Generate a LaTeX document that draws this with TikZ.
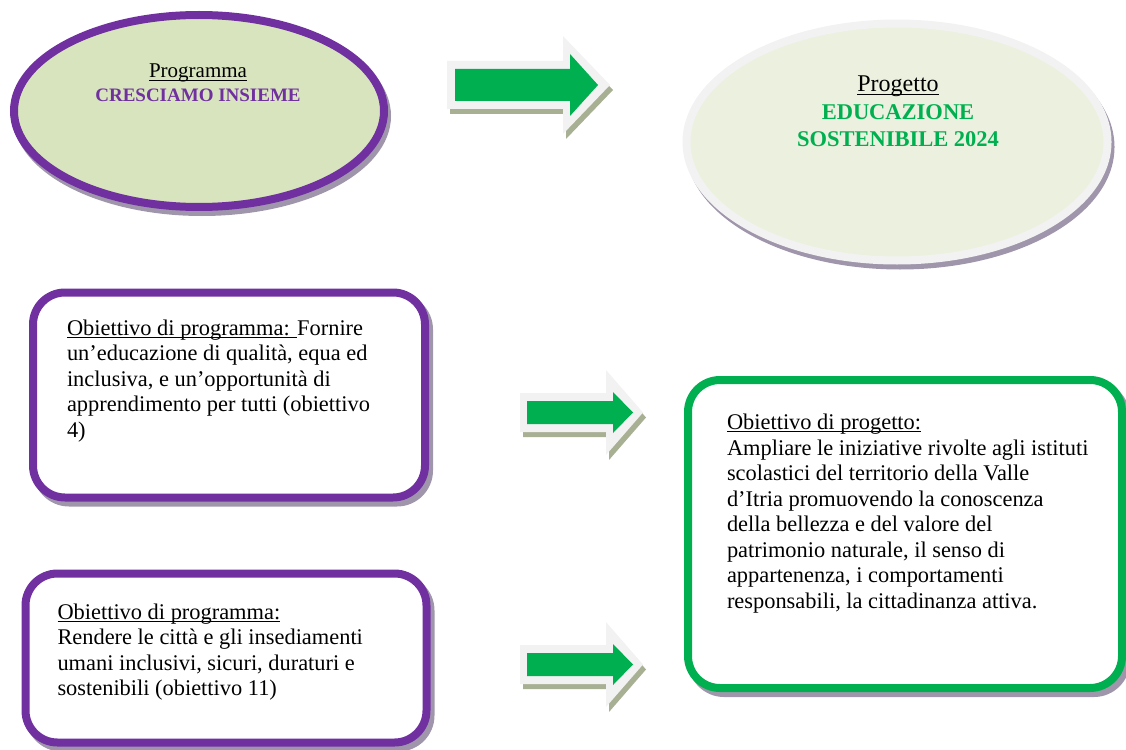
\documentclass[tikz,border=0pt]{standalone}
\usepackage{fontspec}
\setmainfont{Liberation Serif}
\usetikzlibrary{positioning,shapes.geometric,shadows}
\definecolor{progpurple}{RGB}{112,48,160}
\definecolor{projgreen}{RGB}{0,176,80}
\definecolor{ovalgreen}{RGB}{215,228,189}
\definecolor{ovalpale}{RGB}{235,241,222}
\definecolor{rimgrey}{RGB}{242,242,242}
\definecolor{shadowgrey}{RGB}{160,150,172}
\definecolor{arrowshadow}{RGB}{168,176,148}
\newcommand\wordul[1]{\setbox0\hbox{#1}\rlap{\rule[-2.6pt]{\wd0}{1pt}}\box0}

\begin{document}
\begin{tikzpicture}[x=1pt, y=-1pt,
    oval/.style    ={ellipse, line width=8pt, inner sep=0pt, outer sep=0pt,
                     drop shadow={shadow xshift=3pt, shadow yshift=-5pt, fill=shadowgrey,
                                  draw=shadowgrey, line width=8pt, opacity=1}},
    objbox/.style  ={rectangle, rounded corners=32pt, line width=8pt, fill=white, outer sep=0pt,
                     drop shadow={shadow xshift=4pt, shadow yshift=-5pt, fill=shadowgrey,
                                  draw=shadowgrey, line width=8pt, opacity=1}},
    titletext/.style={anchor=base, inner sep=0pt, outer sep=0pt},
    bodytext/.style={inner sep=0pt, outer sep=0pt, align=left,
                     font=\fontsize{22.4}{25.5}\selectfont},
    arrshadow/.style={fill=arrowshadow},
    arrrim/.style  ={fill=rimgrey},
    arrbody/.style ={fill=projgreen}]
    \useasboundingbox (0,0) rectangle (1126,749);

    % top row: programme and project
    \node[oval, draw=progpurple, fill=ovalgreen, minimum width=370pt, minimum height=192pt] (prog) at (199,111) {};
    \node[titletext, font=\fontsize{21}{24}\selectfont] (progtitle) at (198,78) {\wordul{Programma}};
    \node[titletext, font=\fontsize{19}{22}\selectfont\bfseries, text=progpurple] (progname) at (198,102) {CRESCIAMO INSIEME};

    \node[oval, draw=rimgrey, fill=ovalpale, minimum width=421pt, minimum height=237pt] (proj) at (897,142) {};
    \node[titletext, font=\fontsize{24}{27}\selectfont] (projtitle) at (898,92) {\wordul{Progetto}};
    \node[inner sep=0pt, outer sep=0pt, anchor=north, align=center, text=projgreen,
          font=\fontsize{22.5}{27}\selectfont\bfseries] (projname) at (898,105) {EDUCAZIONE\\ SOSTENIBILE 2024};

    % objectives
    \node[objbox, draw=progpurple, minimum width=392pt, minimum height=205pt] (obj1) at (229,395) {};
    \node[bodytext, below right=27pt and 34pt of obj1.north west] (obj1txt)
        {\wordul{Obiettivo di programma: }Fornire\\
         un’educazione di qualità, equa ed\\
         inclusiva, e un’opportunità di\\
         apprendimento per tutti (obiettivo\\
         4)};

    \node[objbox, draw=progpurple, minimum width=401pt, minimum height=169pt] (obj2) at (226,658) {};
    \node[bodytext, below right=30pt and 32pt of obj2.north west] (obj2txt)
        {\wordul{Obiettivo di programma:}\\
         Rendere le città e gli insediamenti\\
         umani inclusivi, sicuri, duraturi e\\
         sostenibili (obiettivo 11)};

    \node[objbox, draw=projgreen, minimum width=434pt, minimum height=308pt] (goal) at (905,534) {};
    \node[bodytext, below right=34pt and 39pt of goal.north west] (goaltxt)
        {\wordul{Obiettivo di progetto:}\\
         Ampliare le iniziative rivolte agli istituti\\
         scolastici del territorio della Valle\\
         d’Itria promuovendo la conoscenza\\
         della bellezza e del valore del\\
         patrimonio naturale, il senso di\\
         appartenenza, i comportamenti\\
         responsabili, la cittadinanza attiva.};

    % block arrows
    \fill[arrshadow] (450,66) -- (566,66) -- (566,41) -- (613,90) -- (566,139) -- (566,114) -- (450,114) -- cycle;
    \fill[arrrim] (447,61) -- (563,61) -- (563,36) -- (610,85) -- (563,134) -- (563,109) -- (447,109) -- cycle;
    \fill[arrbody] (455,69) -- (570,69) -- (570,54) -- (598,85) -- (570,116) -- (570,101) -- (455,101) -- cycle;

    \foreach \dy in {0,252} {
      \begin{scope}[shift={(0,\dy)}]
        \fill[arrshadow] (523,398) -- (609,398) -- (609,375) -- (646,417.5) -- (609,460) -- (609,437) -- (523,437) -- cycle;
        \fill[arrrim] (520,393) -- (606,393) -- (606,370) -- (643,412.5) -- (606,455) -- (606,432) -- (520,432) -- cycle;
        \fill[arrbody] (527,401) -- (613,401) -- (613,392) -- (633,412.5) -- (613,433) -- (613,424) -- (527,424) -- cycle;
      \end{scope}
    }
  \end{tikzpicture}
\end{document}
